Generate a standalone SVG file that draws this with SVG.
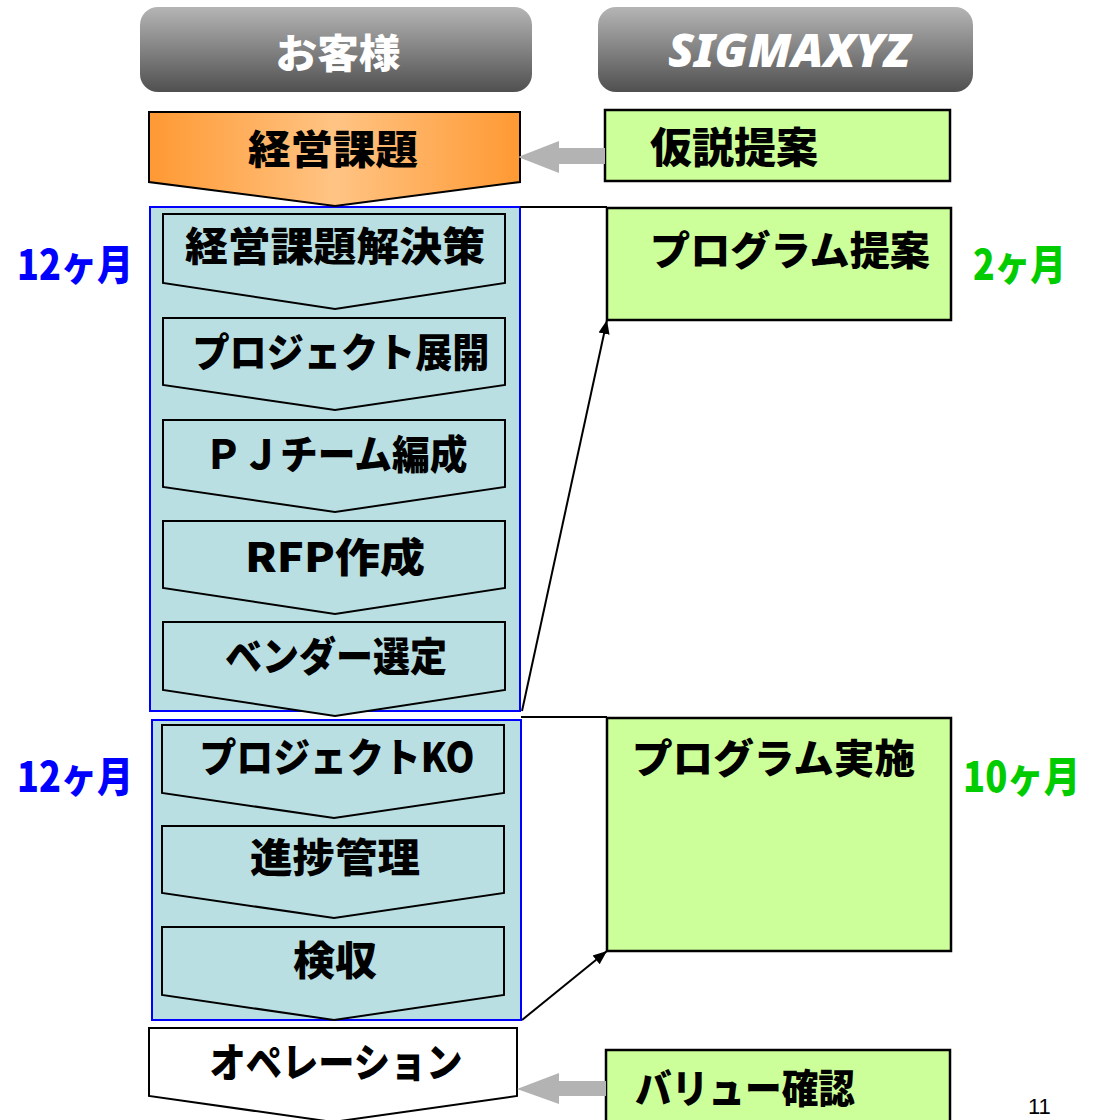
<svg xmlns="http://www.w3.org/2000/svg" width="1097" height="1120" viewBox="0 0 1097 1120">
<defs>
  <linearGradient id="gHead" x1="0" y1="0" x2="0" y2="1">
    <stop offset="0" stop-color="#b5b5b5"/>
    <stop offset="1" stop-color="#505050"/>
  </linearGradient>
  <linearGradient id="gOrange" x1="0" y1="0" x2="1" y2="0">
    <stop offset="0" stop-color="#ff9933"/>
    <stop offset="0.5" stop-color="#ffc484"/>
    <stop offset="1" stop-color="#ff9933"/>
  </linearGradient>
  <marker id="ahB" viewBox="0 0 10 10" refX="10" refY="5" markerWidth="14" markerHeight="14" orient="auto" markerUnits="userSpaceOnUse">
    <path d="M0,1 L10,5 L0,9 z" fill="#000"/>
  </marker>
</defs>
<style>
  .jp { font-family: "Noto Sans CJK JP", "Noto Sans", sans-serif; font-weight: 900; }
  .lbl { font-size: 40px; fill: #000; text-anchor: middle; }
  .hdr { fill: url(#gHead); }
  .chev { fill: #b9dfe3; stroke: #000; stroke-width: 2; }
  .grp { fill: #b9dfe3; stroke: #0000ff; stroke-width: 2; }
  .green { fill: #ccff99; stroke: #000; stroke-width: 2.5; }
  .garrow { fill: #b3b3b3; }
  .conn { stroke: #000; stroke-width: 2; fill: none; }
  .dur-b { fill: #0000ff; font-size: 42px; }
  .dur-g { fill: #00cc00; font-size: 42px; }
</style>

<g id="header-client">
  <rect x="140" y="7" width="392" height="85" rx="18" class="hdr"/>
  <text x="338" y="68" class="jp lbl" style="fill:#fff" font-size="42" textLength="125" lengthAdjust="spacingAndGlyphs">お客様</text>
</g>
<g id="header-sigmaxyz">
  <rect x="598" y="7" width="375" height="85" rx="18" class="hdr"/>
  <text x="789" y="67" font-family="Noto Sans, Liberation Sans, sans-serif" font-weight="900" font-style="italic" font-size="46" fill="#fff" text-anchor="middle" textLength="242" lengthAdjust="spacingAndGlyphs">SIGMAXYZ</text>
</g>

<g id="groups">
  <rect id="group1" x="150" y="207" width="370" height="504" class="grp"/>
  <rect id="group2" x="152" y="720" width="369" height="300" class="grp"/>
</g>

<g id="node-keiei-kadai">
  <path d="M149,112 H520 V182 L335,206 L149,182 Z" fill="url(#gOrange)" stroke="#000" stroke-width="2"/>
  <text x="333" y="164" class="jp lbl" font-size="42" textLength="170" lengthAdjust="spacingAndGlyphs">経営課題</text>
</g>

<g id="node-kaiketsusaku">
  <path d="M163,214 H505 V283 L335,309 L163,283 Z" class="chev"/>
  <text x="335" y="261" class="jp lbl" textLength="300" lengthAdjust="spacingAndGlyphs">経営課題解決策</text>
</g>
<g id="node-pj-tenkai">
  <path d="M163,318 H505 V385 L335,410 L163,385 Z" class="chev"/>
  <text x="341" y="367" class="jp lbl" textLength="297" lengthAdjust="spacingAndGlyphs">プロジェクト展開</text>
</g>
<g id="node-pj-team">
  <path d="M163,420 H505 V487 L335,512 L163,487 Z" class="chev"/>
  <text x="336" y="469" class="jp lbl" textLength="263" lengthAdjust="spacingAndGlyphs">ＰＪチーム編成</text>
</g>
<g id="node-rfp">
  <path d="M163,521 H505 V588 L335,614 L163,588 Z" class="chev"/>
  <text x="335" y="572" class="jp lbl" textLength="180" lengthAdjust="spacingAndGlyphs">RFP作成</text>
</g>
<g id="node-vendor">
  <path d="M163,622 H505 V690 L335,716 L163,690 Z" class="chev"/>
  <text x="336" y="671" class="jp lbl" textLength="222" lengthAdjust="spacingAndGlyphs">ベンダー選定</text>
</g>
<g id="node-pj-ko">
  <path d="M162,725 H504 V793 L334,818 L162,793 Z" class="chev"/>
  <text x="337" y="772" class="jp lbl" textLength="275" lengthAdjust="spacingAndGlyphs">プロジェクトKO</text>
</g>
<g id="node-shinchoku">
  <path d="M162,826 H504 V893 L334,918 L162,893 Z" class="chev"/>
  <text x="335" y="872" class="jp lbl" textLength="170" lengthAdjust="spacingAndGlyphs">進捗管理</text>
</g>
<g id="node-kenshu">
  <path d="M162,927 H504 V995 L334,1020 L162,995 Z" class="chev"/>
  <text x="335" y="975" class="jp lbl" textLength="84" lengthAdjust="spacingAndGlyphs">検収</text>
</g>
<g id="node-operation">
  <path d="M149,1028 H517 V1096 L333,1122 L149,1096 Z" fill="#fff" stroke="#000" stroke-width="2"/>
  <text x="336" y="1077" class="jp lbl" textLength="253" lengthAdjust="spacingAndGlyphs">オペレーション</text>
</g>

<g id="node-kasetsu">
  <rect x="605" y="110" width="345" height="71" class="green"/>
  <text x="650" y="163" class="jp" font-size="42" textLength="168" lengthAdjust="spacingAndGlyphs">仮説提案</text>
</g>
<g id="node-program-teian">
  <rect x="607" y="208" width="344" height="112" class="green"/>
  <text x="650" y="265" class="jp" font-size="40" textLength="280" lengthAdjust="spacingAndGlyphs">プログラム提案</text>
</g>
<g id="node-program-jisshi">
  <rect x="607" y="718" width="344" height="233" class="green"/>
  <text x="632" y="773" class="jp" font-size="40" textLength="283" lengthAdjust="spacingAndGlyphs">プログラム実施</text>
</g>
<g id="node-value">
  <rect x="606" y="1050" width="344" height="80" class="green"/>
  <text x="635" y="1103" class="jp" font-size="40" textLength="220" lengthAdjust="spacingAndGlyphs">バリュー確認</text>
</g>

<g id="durations">
  <text x="17" y="280" class="jp dur-b" textLength="116" lengthAdjust="spacingAndGlyphs">12ヶ月</text>
  <text x="17" y="792" class="jp dur-b" textLength="116" lengthAdjust="spacingAndGlyphs">12ヶ月</text>
  <text x="973" y="280" class="jp dur-g" textLength="93" lengthAdjust="spacingAndGlyphs">2ヶ月</text>
  <text x="963" y="792" class="jp dur-g" textLength="117" lengthAdjust="spacingAndGlyphs">10ヶ月</text>
</g>

<g id="connectors">
  <path d="M605,148 H559 V141 L518,157 L559,173 V164 H605 Z" class="garrow"/>
  <path d="M606,1081 H559 V1073 L517,1089 L559,1104 V1096 H606 Z" class="garrow"/>
  <line x1="520" y1="207" x2="607" y2="207" class="conn"/>
  <line x1="522" y1="711" x2="607" y2="320" class="conn" marker-end="url(#ahB)"/>
  <line x1="521" y1="717" x2="607" y2="717" class="conn"/>
  <line x1="522" y1="1020" x2="607" y2="951" class="conn" marker-end="url(#ahB)"/>
</g>

<text x="1028" y="1114" font-family="Liberation Sans, Arial, sans-serif" font-size="22" fill="#000">11</text>
</svg>
